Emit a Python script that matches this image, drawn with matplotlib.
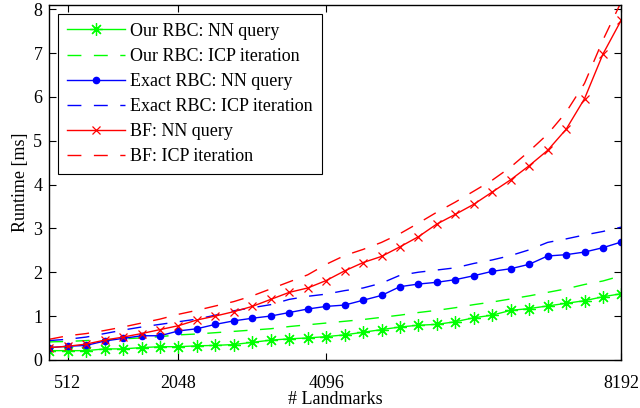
import numpy as np
import matplotlib
matplotlib.use("Agg")
import matplotlib.pyplot as plt

plt.rcParams['font.family'] = ['Liberation Serif', 'DejaVu Serif']
plt.rcParams['font.size'] = 13

# number of landmarks, 256 .. 8192 in steps of 256
landmarks = np.arange(256, 8192 + 1, 256)

our_nn = [0.21, 0.21, 0.21, 0.25, 0.25, 0.28, 0.30, 0.30, 0.32, 0.33, 0.35, 0.40,
          0.45, 0.48, 0.50, 0.53, 0.57, 0.63, 0.69, 0.75, 0.79, 0.81, 0.87, 0.96,
          1.02, 1.13, 1.17, 1.23, 1.29, 1.35, 1.44, 1.51]
our_icp = [0.41, 0.42, 0.44, 0.46, 0.48, 0.50, 0.53, 0.57, 0.59, 0.62, 0.65, 0.68,
           0.71, 0.76, 0.80, 0.84, 0.88, 0.92, 0.97, 1.02, 1.08, 1.13, 1.19, 1.26,
           1.32, 1.39, 1.46, 1.54, 1.62, 1.72, 1.80, 1.92]
exact_nn = [0.28, 0.31, 0.33, 0.43, 0.49, 0.55, 0.55, 0.66, 0.71, 0.81, 0.89, 0.95,
            1.00, 1.08, 1.16, 1.22, 1.25, 1.36, 1.47, 1.67, 1.73, 1.77, 1.83, 1.92,
            2.02, 2.08, 2.18, 2.37, 2.40, 2.46, 2.56, 2.69]
exact_icp = [0.44, 0.47, 0.52, 0.60, 0.68, 0.75, 0.81, 0.87, 0.93, 1.02, 1.12, 1.19,
             1.26, 1.38, 1.45, 1.50, 1.58, 1.64, 1.75, 1.93, 2.00, 2.05, 2.10, 2.20,
             2.28, 2.38, 2.51, 2.68, 2.76, 2.85, 2.93, 3.03]
bf_nn = [0.28, 0.31, 0.36, 0.45, 0.52, 0.60, 0.69, 0.78, 0.91, 1.00, 1.10, 1.22,
         1.38, 1.54, 1.64, 1.81, 2.03, 2.22, 2.36, 2.58, 2.81, 3.10, 3.32, 3.55,
         3.83, 4.11, 4.43, 4.78, 5.26, 5.96, 6.98, 7.76]
bf_icp = [0.47, 0.55, 0.60, 0.67, 0.75, 0.84, 0.93, 1.04, 1.13, 1.23, 1.33, 1.46,
          1.62, 1.78, 1.94, 2.18, 2.38, 2.52, 2.68, 2.88, 3.12, 3.37, 3.60, 3.85,
          4.10, 4.40, 4.76, 5.15, 5.65, 6.31, 7.30, 8.18]

x_ticks = [512, 2048, 4096, 8192]

fig = plt.figure(figsize=(6.4, 4.08), dpi=100)
ax = fig.add_axes([0.077, 0.118, 0.894, 0.870])

dash = (0, (10, 9))
ax.plot(landmarks, our_nn, color=(0, 1, 0), lw=1, marker=(8, 2, 0), ms=9, mew=0.9,
        label="Our RBC: NN query")
ax.plot(landmarks, our_icp, color=(0, 1, 0), lw=1, ls=dash,
        label="Our RBC: ICP iteration")
ax.plot(landmarks, exact_nn, color=(0, 0, 1), lw=1, marker='o', ms=4.5,
        label="Exact RBC: NN query")
ax.plot(landmarks, exact_icp, color=(0, 0, 1), lw=1, ls=dash,
        label="Exact RBC: ICP iteration")
ax.plot(landmarks, bf_nn, color=(1, 0, 0), lw=1, marker='x', ms=5.5, mew=0.9,
        label="BF: NN query")
ax.plot(landmarks, bf_icp, color=(1, 0, 0), lw=1, ls=dash,
        label="BF: ICP iteration")

ax.set_xlim(256, 8192)
ax.set_ylim(0, 8.1)
ax.set_xticks(x_ticks)
ax.set_xticklabels([str(t) for t in x_ticks])
ax.set_yticks(range(0, 9))
ax.tick_params(direction='in', top=True, right=True, length=5, width=0.8)
ax.tick_params(axis='x', pad=11)
ax.tick_params(axis='y', pad=5)
for s in ax.spines.values():
    s.set_linewidth(1.0)

ax.set_xlabel("# Landmarks", labelpad=-1)
ax.set_ylabel("Runtime [ms]", labelpad=3)

leg = ax.legend(loc='upper left', bbox_to_anchor=(0.015, 0.975), borderaxespad=0,
                fancybox=False, framealpha=1, edgecolor='black', handlelength=3.2,
                handletextpad=0.3, labelspacing=0.45, borderpad=0.5, numpoints=1)
leg.get_frame().set_linewidth(0.8)

fig.savefig("out.png", dpi=100)
